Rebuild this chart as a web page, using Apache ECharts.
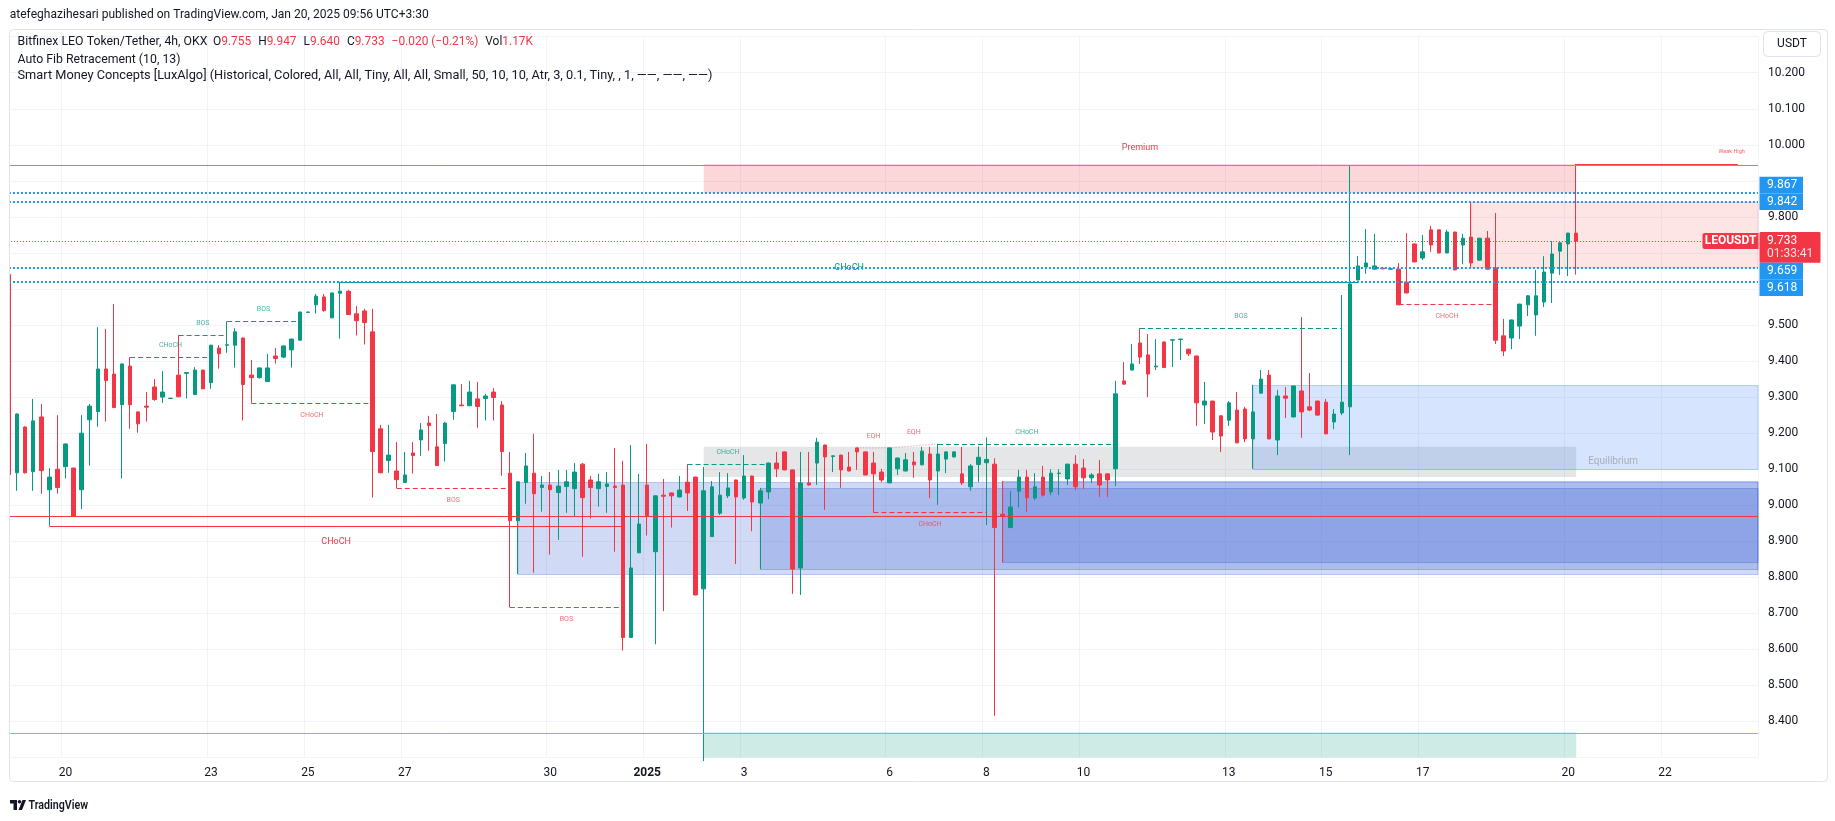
<!DOCTYPE html>
<html>
<head>
<meta charset="utf-8">
<script src="https://cdn.jsdelivr.net/npm/echarts/dist/echarts.min.js"></script>
<style>
html,body{margin:0;padding:0;background:#ffffff;}
#chart{width:1835px;height:821px;}
</style>
</head>
<body>
<div id="chart"></div>
<script>
// ---------------- DATA ----------------
// first 4h candle (partly cut by the left edge): 2024-12-18 23:30 (UTC+3:30 wall clock)
const firstCandleUTC = Date.UTC(2024, 11, 18, 23, 30);
const candleHours = 4;
const slotCount = 217;

const tickDates  = ['2024-12-20','2024-12-23','2024-12-25','2024-12-27','2024-12-30','2025-01-01','2025-01-03','2025-01-06','2025-01-08','2025-01-10','2025-01-13','2025-01-15','2025-01-17','2025-01-20','2025-01-22'];
const tickLabels = ['20','23','25','27','30','2025','3','6','8','10','13','15','17','20','22'];

// [open, high, low, close]
const candles = [
[9.640,9.645,9.083,9.085],
[9.090,9.255,9.040,9.253],[9.217,9.219,9.088,9.090],[9.093,9.295,9.040,9.234],[9.245,9.281,9.032,9.096],[9.043,9.103,8.943,9.078],[9.100,9.250,9.032,9.049],
[9.107,9.171,9.074,9.170],[9.103,9.104,8.969,8.969],[9.043,9.250,8.989,9.200],[9.237,9.281,9.110,9.275],[9.260,9.494,9.218,9.378],[9.378,9.489,9.232,9.346],
[9.364,9.558,9.270,9.271],[9.279,9.393,9.074,9.392],[9.386,9.411,9.212,9.279],[9.259,9.260,9.201,9.226],[9.275,9.314,9.232,9.272],[9.328,9.350,9.290,9.293],
[9.300,9.372,9.284,9.314],[9.296,9.298,9.295,9.297],[9.361,9.472,9.300,9.301],[9.366,9.369,9.296,9.368],[9.307,9.383,9.306,9.375],[9.375,9.376,9.322,9.323],
[9.340,9.445,9.323,9.444],[9.436,9.444,9.379,9.420],[9.444,9.510,9.423,9.445],[9.444,9.491,9.382,9.481],[9.464,9.465,9.235,9.335],[9.361,9.403,9.284,9.354],
[9.354,9.382,9.351,9.381],[9.343,9.420,9.342,9.381],[9.414,9.436,9.393,9.407],[9.411,9.443,9.408,9.442],[9.431,9.462,9.382,9.461],[9.458,9.537,9.457,9.536],
[9.535,9.537,9.534,9.536],[9.556,9.586,9.532,9.580],[9.578,9.586,9.537,9.540],[9.520,9.590,9.518,9.589],[9.588,9.620,9.462,9.594],[9.594,9.597,9.528,9.529],
[9.531,9.553,9.471,9.512],[9.539,9.545,9.446,9.507],[9.481,9.545,9.021,9.149],[9.212,9.223,9.089,9.090],[9.124,9.223,9.090,9.139],[9.095,9.175,9.047,9.071],
[9.063,9.148,9.062,9.084],[9.145,9.175,9.088,9.138],[9.181,9.228,9.137,9.209],[9.228,9.248,9.151,9.221],[9.162,9.253,9.109,9.110],[9.171,9.231,9.121,9.228],
[9.260,9.335,9.237,9.334],[9.278,9.336,9.275,9.276],[9.276,9.345,9.275,9.314],[9.295,9.342,9.215,9.274],[9.296,9.309,9.235,9.303],[9.314,9.325,9.235,9.299],
[9.278,9.289,9.082,9.149],[9.089,9.148,8.717,8.957],[8.957,9.066,8.809,9.065],[9.063,9.145,9.004,9.109],[9.089,9.198,8.813,9.032],[9.049,9.081,8.982,9.056],
[9.056,9.092,8.863,9.043],[9.035,9.098,8.904,9.053],[9.052,9.098,8.979,9.065],[9.046,9.117,8.968,9.092],[9.114,9.117,8.857,9.021],[9.070,9.081,8.963,9.049],
[9.046,9.087,8.996,9.065],[9.052,9.092,8.979,9.059],[9.053,9.159,8.871,9.049],[9.056,9.123,8.597,8.633],[8.633,9.167,8.632,8.826],[8.868,9.087,8.867,8.948],
[9.056,9.170,8.916,8.971],[8.871,9.028,8.614,9.026],[9.028,9.073,8.706,9.025],[9.034,9.035,8.938,9.026],[9.023,9.081,9.022,9.042],[9.064,9.114,8.984,9.034],
[9.078,9.079,8.750,8.751],[8.768,9.106,8.290,9.040],[8.913,9.067,8.912,9.051],[8.978,9.092,8.973,9.028],[9.026,9.089,9.020,9.048],[9.070,9.071,8.837,9.023],
[9.020,9.139,9.015,9.081],[9.081,9.082,8.928,9.009],[9.006,9.048,8.823,9.040],[9.037,9.118,9.017,9.117],[9.117,9.148,9.078,9.101],[9.148,9.149,9.097,9.098],
[9.098,9.099,8.754,8.823],[8.826,9.148,8.751,9.062],[9.062,9.148,9.055,9.056],[9.117,9.187,9.056,9.175],[9.167,9.168,8.987,9.134],[9.135,9.138,9.092,9.137],
[9.139,9.140,9.048,9.098],[9.106,9.148,9.094,9.095],[9.159,9.160,9.098,9.148],[9.148,9.149,9.083,9.084],[9.117,9.148,8.980,9.087],[9.092,9.101,9.064,9.070],
[9.062,9.160,9.061,9.159],[9.101,9.132,9.084,9.131],[9.095,9.145,9.094,9.126],[9.120,9.148,9.076,9.112],[9.112,9.162,9.111,9.150],[9.142,9.162,9.020,9.070],
[9.095,9.170,9.001,9.142],[9.128,9.149,9.089,9.148],[9.134,9.150,9.133,9.148],[9.087,9.162,9.056,9.062],[9.051,9.114,9.040,9.109],[9.113,9.163,9.064,9.133],
[9.118,9.188,8.945,9.127],[9.114,9.130,8.416,8.938],[8.975,9.067,8.841,8.969],[8.938,9.039,8.937,8.995],[9.039,9.098,8.994,9.078],[9.078,9.098,8.982,9.021],
[9.020,9.089,9.015,9.051],[9.078,9.109,9.024,9.028],[9.037,9.100,9.028,9.089],[9.088,9.100,9.028,9.089],[9.073,9.115,9.056,9.114],[9.114,9.139,9.042,9.051],
[9.103,9.128,9.045,9.076],[9.076,9.089,9.062,9.084],[9.087,9.125,9.023,9.056],[9.087,9.088,9.023,9.070],[9.101,9.345,9.053,9.309],[9.345,9.397,9.335,9.336],
[9.375,9.447,9.374,9.392],[9.450,9.492,9.392,9.411],[9.417,9.475,9.300,9.364],[9.384,9.461,9.375,9.386],[9.453,9.454,9.381,9.382],[9.458,9.461,9.384,9.459],
[9.460,9.462,9.403,9.461],[9.433,9.434,9.414,9.420],[9.414,9.415,9.220,9.284],[9.278,9.342,9.225,9.289],[9.289,9.290,9.181,9.203],[9.248,9.249,9.148,9.192],
[9.236,9.289,9.220,9.284],[9.264,9.314,9.172,9.173],[9.267,9.273,9.175,9.184],[9.184,9.334,9.101,9.259],[9.311,9.375,9.310,9.350],[9.361,9.375,9.183,9.184],
[9.181,9.320,9.139,9.303],[9.303,9.328,9.242,9.297],[9.245,9.332,9.244,9.331],[9.317,9.522,9.187,9.259],[9.273,9.367,9.261,9.264],[9.289,9.290,9.249,9.250],
[9.286,9.295,9.197,9.198],[9.231,9.267,9.211,9.253],[9.256,9.583,9.250,9.286],[9.273,9.944,9.139,9.614],[9.625,9.691,9.624,9.664],[9.661,9.766,9.642,9.672],
[9.655,9.753,9.654,9.664],[9.658,9.659,9.655,9.656],[9.655,9.657,9.654,9.656],[9.655,9.672,9.555,9.556],[9.619,9.755,9.588,9.589],[9.725,9.726,9.674,9.675],
[9.686,9.750,9.680,9.703],[9.764,9.775,9.703,9.722],[9.764,9.765,9.699,9.700],[9.700,9.764,9.699,9.758],[9.758,9.759,9.652,9.653],[9.722,9.753,9.669,9.741],
[9.744,9.841,9.661,9.672],[9.680,9.742,9.679,9.741],[9.741,9.761,9.654,9.655],[9.658,9.811,9.447,9.458],[9.470,9.517,9.414,9.428],[9.464,9.515,9.433,9.514],
[9.497,9.559,9.461,9.558],[9.556,9.583,9.525,9.581],[9.528,9.653,9.470,9.581],[9.564,9.691,9.550,9.647],[9.644,9.733,9.561,9.697],[9.705,9.729,9.639,9.728],
[9.725,9.756,9.636,9.755],[9.755,9.947,9.640,9.733]
];

// Smart Money Concepts overlays (indices = candle index in `candles`)
// zones: [from, to, top, bottom, kind]
const zones = [
  [86, 194, 9.947, 9.867, 'premium'],
  [86, 194, 9.162, 9.078, 'equilibrium'],
  [86, 194, 8.370, 8.290, 'discount']
];
// order blocks: [from, top, bottom, kind] (extend to the right edge)
const orderBlocks = [
  [63, 9.065, 8.809, 'swingBull'],
  [93, 9.048, 8.823, 'swingBull'],
  [123, 9.067, 8.841, 'swingBull'],
  [154, 9.334, 9.101, 'internalBull'],
  [181, 9.841, 9.662, 'internalBear']
];
// structure breaks: [from, to, price, label, direction, scope]
const structure = [
  [15, 25, 9.411, 'CHoCH', 'bull', 'internal'],
  [21, 27, 9.472, 'BOS', 'bull', 'internal'],
  [27, 36, 9.510, 'BOS', 'bull', 'internal'],
  [30, 45, 9.284, 'CHoCH', 'bear', 'internal'],
  [48, 62, 9.047, 'BOS', 'bear', 'internal'],
  [62, 76, 8.717, 'BOS', 'bear', 'internal'],
  [84, 94, 9.113, 'CHoCH', 'bull', 'internal'],
  [107, 121, 8.980, 'CHoCH', 'bear', 'internal'],
  [115, 137, 9.170, 'CHoCH', 'bull', 'internal'],
  [140, 165, 9.491, 'BOS', 'bull', 'internal'],
  [172, 184, 9.558, 'CHoCH', 'bear', 'internal'],
  [41, 167, 9.620, 'CHoCH', 'bull', 'swing'],
  [5, 76, 8.943, 'CHoCH', 'bear', 'swing']
];
// equal highs: [from, price, to, price]
const equalHighs = [
  [105, 9.159, 109, 9.159],
  [109, 9.159, 115, 9.170]
];
const weakHigh = [194, 214, 9.947];
const fibLevels = [9.944, 8.970, 8.367];
const fibKinds = ['grey', 'red', 'green'];
const markedPrices = [9.867, 9.842, 9.659, 9.618];
const lastPrice = 9.733;
const countdown = '01:33:41';
const symbol = 'LEOUSDT';
const currency = 'USDT';

const titleLine = 'atefeghazihesari published on TradingView.com, Jan 20, 2025 09:56 UTC+3:30';
const symbolLine = 'Bitfinex LEO Token/Tether, 4h, OKX';
const ohlcItems = [['O','9.755'],['H','9.947'],['L','9.640'],['C','9.733'],['','\u22120.020 (\u22120.21%)'],['Vol','1.17K']];
const fibLine = 'Auto Fib Retracement (10, 13)';
const smcLine = 'Smart Money Concepts [LuxAlgo] (Historical, Colored, All, All, Tiny, All, All, Small, 50, 10, 10, Atr, 3, 0.1, Tiny, , 1, \u2014\u2014, \u2014\u2014, \u2014\u2014)';

// ---------------- BUILD ----------------
const UP = '#089981', DOWN = '#f23645', TEXT = '#131722', FONT = 'Roboto, sans-serif';
const pad = n => String(n).padStart(2, '0');
const categories = [];
for (let k = 0; k < slotCount; k++) {
  const d = new Date(firstCandleUTC + k * candleHours * 3600e3);
  categories.push(d.getUTCFullYear() + '-' + pad(d.getUTCMonth() + 1) + '-' + pad(d.getUTCDate()) + ' ' + pad(d.getUTCHours()) + ':' + pad(d.getUTCMinutes()));
}
const tickMap = {};
tickDates.forEach((d, j) => { tickMap[d + ' 03:30'] = tickLabels[j]; });
const isTick = (idx, val) => tickMap[val] !== undefined;

const seriesData = candles.map(c => [c[0], c[3], c[2], c[1]]);

const zoneFill = {premium: 'rgba(242,54,69,0.2)', equilibrium: 'rgba(135,139,148,0.22)', discount: 'rgba(8,153,129,0.2)'};
const obFill = {swingBull: 'rgba(24,72,204,0.2)', internalBull: 'rgba(49,121,245,0.2)', internalBear: 'rgba(247,124,128,0.2)'};
const obStroke = {swingBull: 'rgba(24,72,204,0.25)', internalBull: 'rgba(49,121,245,0.3)', internalBear: 'rgba(247,124,128,0.3)'};
const fibColor = {grey: '#8e93a6', red: '#f23645', green: '#81c784'};

const crisp = v => Math.round(v) + 0.5;

function renderBoxes(params, api) {
  const cs = params.coordSys;
  const right = cs.x + cs.width;
  const X = i => api.coord([i, 9])[0];
  const Y = p => api.coord([0, p])[1];
  const ch = [];
  zones.forEach(z => {
    const x0 = X(z[0]), x1 = X(z[1]), y0 = Y(z[2]), y1 = Y(z[3]);
    ch.push({type: 'rect', shape: {x: x0, y: y0, width: x1 - x0, height: y1 - y0}, style: {fill: zoneFill[z[4]]}});
  });
  orderBlocks.forEach(b => {
    const x0 = X(b[0]), y0 = Y(b[1]), y1 = Y(b[2]);
    ch.push({type: 'rect', shape: {x: x0, y: crisp(y0), width: right - x0, height: Math.round(y1 - y0)},
      style: {fill: obFill[b[3]], stroke: obStroke[b[3]], lineWidth: 1}});
  });
  const pz = zones[0];
  ch.push({type: 'text', style: {text: 'Premium', x: (X(pz[0]) + X(pz[1])) / 2, y: Y(pz[2]) - 16,
    fill: DOWN, font: '9px ' + FONT, align: 'center', verticalAlign: 'middle'}});
  const ez = zones[1];
  ch.push({type: 'text', style: {text: 'Equilibrium', x: X(ez[1]) + 12, y: (Y(ez[2]) + Y(ez[3])) / 2,
    fill: '#a9acb5', font: '10px ' + FONT, align: 'left', verticalAlign: 'middle'}});
  return {type: 'group', children: ch};
}

function renderLines(params, api) {
  const cs = params.coordSys;
  const left = cs.x, right = cs.x + cs.width;
  const X = i => api.coord([i, 9])[0];
  const Y = p => api.coord([0, p])[1];
  const ch = [];
  fibLevels.forEach((p, j) => {
    const y = crisp(Y(p));
    ch.push({type: 'line', shape: {x1: left, y1: y, x2: right, y2: y}, style: {stroke: fibColor[fibKinds[j]], lineWidth: 1}});
  });
  structure.forEach(s => {
    const x0 = X(s[0]), x1 = X(s[1]), y = crisp(Y(s[2]));
    const col = s[4] === 'bull' ? UP : DOWN;
    const swing = s[5] === 'swing';
    ch.push({type: 'line', shape: {x1: x0, y1: y, x2: x1, y2: y},
      style: {stroke: col, lineWidth: 1, lineDash: swing ? null : [5, 3]}});
    const off = swing ? 15 : 12;
    ch.push({type: 'text', style: {text: s[3], x: (x0 + x1) / 2, y: s[4] === 'bull' ? y - off : y + off,
      fill: col, font: (swing ? '9px ' : '7px ') + FONT, align: 'center', verticalAlign: 'middle', opacity: swing ? 1 : 0.75}});
  });
  equalHighs.forEach(e => {
    const x0 = X(e[0]), y0 = Y(e[1]), x1 = X(e[2]), y1 = Y(e[3]);
    ch.push({type: 'line', shape: {x1: x0, y1: y0, x2: x1, y2: y1}, style: {stroke: 'rgba(242,54,69,0.55)', lineWidth: 1, lineDash: [1, 2]}});
    ch.push({type: 'text', style: {text: 'EQH', x: (x0 + x1) / 2, y: Math.min(y0, y1) - 12,
      fill: DOWN, font: '7px ' + FONT, align: 'center', verticalAlign: 'middle', opacity: 0.75}});
  });
  {
    const x0 = X(weakHigh[0]), x1 = X(weakHigh[1]), y = crisp(Y(weakHigh[2]));
    ch.push({type: 'line', shape: {x1: x0, y1: y, x2: x1, y2: y}, style: {stroke: DOWN, lineWidth: 1}});
    ch.push({type: 'text', style: {text: 'Weak High', x: x1 + 7, y: y - 12.5, fill: DOWN, font: '5.5px ' + FONT,
      align: 'right', verticalAlign: 'middle', opacity: 0.8}});
  }
  markedPrices.forEach(p => {
    const y = Math.round(Y(p));
    ch.push({type: 'line', shape: {x1: left, y1: y, x2: right, y2: y}, style: {stroke: '#2196f3', lineWidth: 2, lineDash: [2, 2]}});
  });
  {
    const y = crisp(Y(lastPrice));
    ch.push({type: 'line', shape: {x1: left, y1: y, x2: right, y2: y}, style: {stroke: DOWN, lineWidth: 1, lineDash: [1, 2]}});
  }
  return {type: 'group', children: ch};
}

const chart = echarts.init(document.getElementById('chart'), null, {width: 1835, height: 821, renderer: 'canvas'});

const hiddenY = ['8.300', '9.600', '9.700', '9.900', '10.300'];

chart.setOption({
  animation: false,
  backgroundColor: '#ffffff',
  grid: {left: 4.92, right: 77, top: 36.7, bottom: 63.5, containLabel: false},
  xAxis: {
    type: 'category',
    data: categories,
    boundaryGap: true,
    axisLine: {show: false},
    axisTick: {show: false},
    axisLabel: {
      interval: isTick,
      formatter: v => tickMap[v] === '2025' ? '{y|2025}' : (tickMap[v] || ''),
      color: TEXT, fontSize: 12, fontFamily: FONT, margin: 9,
      rich: {y: {fontWeight: 'bold', fontSize: 12, fontFamily: FONT, color: TEXT}}
    },
    splitLine: {show: true, interval: isTick, lineStyle: {color: '#f0f3fa', width: 1}}
  },
  yAxis: {
    type: 'value',
    position: 'right',
    min: 8.3, max: 10.3, interval: 0.1,
    scale: true,
    axisLine: {show: false},
    axisTick: {show: false},
    axisLabel: {
      margin: 10, color: TEXT, fontSize: 12, fontFamily: FONT,
      formatter: v => { const s = v.toFixed(3); return hiddenY.indexOf(s) >= 0 ? '' : s; }
    },
    splitLine: {show: true, lineStyle: {color: '#f0f3fa', width: 1}}
  },
  series: [
    {type: 'custom', name: 'zones', renderItem: renderBoxes, data: [[0, 9]], clip: true, z: 1, silent: true},
    {
      type: 'candlestick', name: 'LEOUSDT', data: seriesData, barWidth: 4, z: 2,
      itemStyle: {color: UP, color0: DOWN, borderColor: UP, borderColor0: DOWN, borderWidth: 1}
    },
    {type: 'custom', name: 'structure', renderItem: renderLines, data: [[0, 9]], clip: true, z: 3, silent: true}
  ]
});

// -------- text and price-scale labels --------
const mctx = document.createElement('canvas').getContext('2d');
function textWidth(t, font) { mctx.font = font; return mctx.measureText(t).width; }
const HFONT = '13px ' + FONT;
const yPix = v => chart.convertToPixel({yAxisIndex: 0}, v);

const g = [];
// mask left of the frame (clips the first partial candle)
g.push({type: 'rect', shape: {x: 0, y: 30, width: 9.5, height: 740}, style: {fill: '#ffffff'}, z: 50, silent: true});
// outer frame
g.push({type: 'rect', shape: {x: 9.5, y: 29.5, width: 1818, height: 752, r: 4}, style: {fill: 'none', stroke: '#e0e3eb', lineWidth: 1}, z: 51, silent: true});
// header
g.push({type: 'text', x: 9.7, y: 15, scaleX: 419 / textWidth(titleLine, HFONT), z: 10,
  style: {text: titleLine, font: HFONT, fill: TEXT, verticalAlign: 'middle'}});
const s1 = 190 / textWidth(symbolLine, HFONT);
g.push({type: 'text', x: 17.5, y: 41.7, scaleX: s1, z: 10, style: {text: symbolLine, font: HFONT, fill: TEXT, verticalAlign: 'middle'}});
// OHLC items laid out one after another from x=213 to x=533
{
  const gap = 7;
  const natural = ohlcItems.map(it => textWidth(it[0] + it[1], HFONT));
  const sum = natural.reduce((a, b) => a + b, 0);
  const sc = (533 - 213 - gap * (ohlcItems.length - 1)) / sum;
  let x = 213;
  ohlcItems.forEach((it, j) => {
    g.push({type: 'text', x: x, y: 41.7, scaleX: sc, z: 10,
      style: {text: (it[0] ? '{d|' + it[0] + '}' : '') + '{r|' + it[1] + '}', font: HFONT, verticalAlign: 'middle',
        rich: {d: {fill: TEXT, font: HFONT}, r: {fill: DOWN, font: HFONT}}}});
    x += natural[j] * sc + gap;
  });
}
g.push({type: 'text', x: 17.5, y: 59.3, scaleX: 163 / textWidth(fibLine, HFONT), z: 10,
  style: {text: fibLine, font: HFONT, fill: TEXT, verticalAlign: 'middle'}});
g.push({type: 'text', x: 17.5, y: 76, scaleX: 695 / textWidth(smcLine, HFONT), z: 10,
  style: {text: smcLine, font: HFONT, fill: TEXT, verticalAlign: 'middle'}});

// currency box
g.push({type: 'rect', shape: {x: 1763.5, y: 31.5, width: 57, height: 25, r: 4}, style: {fill: '#ffffff', stroke: '#e0e3eb', lineWidth: 1}, z: 52});
g.push({type: 'text', x: 1792, y: 44, z: 53, style: {text: currency, font: '12px ' + FONT, fill: TEXT, align: 'center', verticalAlign: 'middle'}});

// price-scale labels
const LBL_H = 16.6;
const lastY = yPix(lastPrice);
const redTop = lastY - 9, redH = 30.7;
g.push({type: 'rect', shape: {x: 1759.5, y: redTop, width: 61, height: redH, r: 1}, style: {fill: DOWN}, z: 20});
g.push({type: 'text', x: 1767, y: redTop + 8.8, z: 21, style: {text: lastPrice.toFixed(3), font: '12px ' + FONT, fill: '#ffffff', verticalAlign: 'middle'}});
g.push({type: 'text', x: 1767, y: redTop + 22.3, z: 21, style: {text: countdown, font: '12px ' + FONT, fill: 'rgba(255,255,255,0.85)', verticalAlign: 'middle'}});
g.push({type: 'rect', shape: {x: 1702.5, y: lastY - 8, width: 56, height: 16, r: [2, 0, 0, 2]}, style: {fill: DOWN}, z: 20});
g.push({type: 'text', x: 1730.5, y: lastY, z: 21, style: {text: symbol, font: 'bold 12px ' + FONT, fill: '#ffffff', align: 'center', verticalAlign: 'middle'}});

const above = markedPrices.filter(p => p > lastPrice).sort((a, b) => a - b);
const below = markedPrices.filter(p => p < lastPrice).sort((a, b) => b - a);
let limit = redTop;
const placed = [];
above.forEach(p => { const c = yPix(p); const bottom = Math.min(c + LBL_H / 2, limit); placed.push([p, bottom - LBL_H]); limit = bottom - LBL_H; });
limit = redTop + redH;
below.forEach(p => { const c = yPix(p); const top = Math.max(c - LBL_H / 2, limit); placed.push([p, top]); limit = top + LBL_H; });
placed.forEach(([p, top]) => {
  g.push({type: 'rect', shape: {x: 1759.5, y: top, width: 43.5, height: LBL_H}, style: {fill: '#2196f3'}, z: 20});
  g.push({type: 'text', x: 1767, y: top + LBL_H / 2 + 0.3, z: 21, style: {text: p.toFixed(3), font: '12px ' + FONT, fill: '#ffffff', verticalAlign: 'middle'}});
});

// TradingView logo
g.push({type: 'rect', shape: {x: 10, y: 800, width: 7, height: 3.5}, style: {fill: '#131722'}, z: 10});
g.push({type: 'rect', shape: {x: 13.5, y: 800, width: 3.5, height: 10}, style: {fill: '#131722'}, z: 10});
g.push({type: 'circle', shape: {cx: 19.5, cy: 801.8, r: 1.8}, style: {fill: '#131722'}, z: 10});
g.push({type: 'polygon', shape: {points: [[18.5, 810], [22.5, 800], [26, 800], [22, 810]]}, style: {fill: '#131722'}, z: 10});
g.push({type: 'text', x: 28.5, y: 805.5, z: 10, scaleX: 0.82, style: {text: 'TradingView', font: '600 13px ' + FONT, fill: '#131722', verticalAlign: 'middle'}});

chart.setOption({graphic: g});
</script>
</body>
</html>
